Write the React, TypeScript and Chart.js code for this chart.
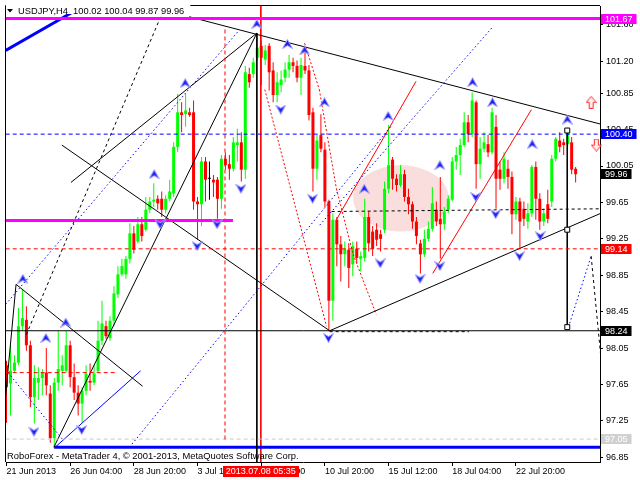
import React, { useEffect, useRef } from "react";
import { Chart, registerables } from "chart.js";

Chart.register(...registerables);

const FONT = "'Liberation Sans', Arial, sans-serif";

// ---- H4 candles (bar 0 = 21 Jun 2013) ----
const opens = [
  97.86, 97.66, 97.80, 97.89, 98.29, 98.36, 98.08, 97.51, 97.67, 97.72,
  97.78, 97.55, 97.06, 97.67, 97.80, 97.80, 98.08, 97.73, 97.56, 97.44,
  97.58, 97.69, 97.67, 97.80, 98.13, 98.29, 98.16, 98.35, 98.64, 98.86,
  98.86, 99.03, 99.31, 99.22, 99.41, 99.35, 99.57, 99.66, 99.69, 99.69,
  99.57, 99.69, 99.75, 100.26, 100.64, 100.62, 100.64, 100.64, 99.66, 99.63,
  100.10, 99.91, 99.90, 99.90, 99.69, 100.13, 100.07, 100.02, 100.28, 100.31,
  100.01, 101.06, 101.06, 101.24, 101.37, 101.22, 101.37, 101.10, 100.83, 100.94,
  101.02, 101.11, 101.19, 101.15, 101.02, 101.15, 101.10, 100.64, 100.02, 100.39,
  100.23, 99.66, 98.57, 99.46, 99.19, 99.08, 99.13, 98.97, 99.14, 99.03,
  99.04, 99.49, 99.33, 99.35, 99.30, 99.35, 99.80, 100.12, 99.91, 99.84,
  99.96, 99.71, 99.63, 99.44, 99.20, 99.08, 99.25, 99.36, 99.57, 99.47,
  99.41, 99.57, 99.68, 100.10, 100.17, 100.28, 100.53, 100.40, 100.75, 100.07,
  100.24, 100.29, 100.20, 100.48, 100.01, 99.91, 100.02, 99.93, 99.52, 99.66,
  99.58, 99.44, 99.53, 100.04, 99.69, 99.44, 99.63, 99.66, 100.13, 100.33,
  100.31, 100.29, 100.31, 100.02,
];
const highs = [
  97.91, 98.08, 97.97, 98.49, 98.70, 98.51, 98.13, 97.86, 97.84, 97.82,
  98.05, 97.64, 97.72, 98.24, 97.97, 98.24, 98.13, 97.88, 97.64, 97.62,
  97.86, 97.88, 97.86, 98.35, 98.57, 98.35, 98.40, 98.73, 98.95, 99.03,
  99.06, 99.42, 99.39, 99.49, 99.49, 99.71, 99.71, 99.86, 99.73, 99.77,
  99.73, 99.90, 100.31, 100.84, 100.75, 100.84, 100.69, 100.77, 99.71, 100.15,
  100.15, 100.10, 99.95, 99.93, 100.17, 100.20, 100.17, 100.37, 100.46, 100.42,
  101.15, 101.13, 101.24, 101.51, 101.43, 101.38, 101.40, 101.19, 101.08, 101.10,
  101.19, 101.27, 101.24, 101.21, 101.24, 101.30, 101.16, 100.69, 100.39, 100.62,
  100.31, 99.68, 99.53, 99.49, 99.28, 99.22, 99.20, 99.22, 99.22, 99.11,
  99.69, 99.55, 99.39, 99.42, 99.35, 99.88, 100.50, 100.15, 99.96, 100.06,
  100.01, 99.80, 99.66, 99.49, 99.24, 99.35, 99.44, 99.82, 99.66, 99.93,
  99.60, 99.73, 100.15, 100.26, 100.35, 100.64, 100.61, 100.86, 100.77, 100.37,
  100.42, 100.39, 100.69, 100.61, 100.10, 100.20, 100.12, 99.99, 99.71, 99.70,
  99.66, 99.64, 100.06, 100.10, 99.75, 99.58, 99.79, 100.17, 100.37, 100.42,
  100.35, 100.47, 100.37, 100.04,
];
const lows = [
  97.23, 97.31, 97.78, 97.86, 98.24, 98.02, 97.40, 97.22, 97.48, 97.53,
  97.53, 97.01, 96.95, 97.58, 97.64, 97.78, 97.62, 97.48, 97.31, 97.23,
  97.53, 97.58, 97.64, 97.78, 98.08, 98.15, 98.13, 98.29, 98.60, 98.84,
  98.81, 98.98, 99.09, 99.20, 99.22, 99.33, 99.53, 99.60, 99.57, 99.49,
  99.53, 99.66, 99.71, 100.20, 100.42, 100.48, 100.59, 99.57, 99.24, 99.39,
  99.66, 99.68, 99.71, 99.47, 99.58, 100.01, 99.90, 99.99, 100.10, 99.88,
  99.91, 100.91, 101.02, 101.21, 100.94, 101.16, 100.88, 100.75, 100.75, 100.86,
  100.97, 101.02, 101.08, 100.97, 100.83, 101.06, 100.55, 99.77, 99.90, 100.20,
  99.60, 98.24, 98.35, 98.95, 98.78, 98.95, 98.71, 98.84, 98.98, 98.89,
  99.00, 99.11, 99.06, 99.17, 99.11, 99.31, 99.75, 99.79, 99.77, 99.82,
  99.66, 99.52, 99.36, 99.19, 98.87, 99.05, 99.22, 99.33, 99.39, 99.03,
  99.35, 99.53, 99.66, 100.01, 99.95, 100.26, 100.31, 100.37, 99.80, 99.91,
  100.20, 100.15, 100.18, 99.58, 99.79, 99.86, 99.80, 99.30, 99.46, 99.14,
  99.39, 99.36, 99.49, 99.46, 99.35, 99.39, 99.42, 99.60, 100.10, 100.20,
  100.17, 100.26, 99.96, 99.87,
];
const closes = [
  97.62, 97.80, 97.89, 98.29, 98.38, 98.08, 97.51, 97.72, 97.72, 97.78,
  97.64, 97.06, 97.67, 97.82, 97.86, 98.08, 97.73, 97.56, 97.44, 97.58,
  97.77, 97.67, 97.77, 98.13, 98.32, 98.18, 98.35, 98.65, 98.86, 98.95,
  99.03, 99.31, 99.13, 99.41, 99.28, 99.57, 99.66, 99.68, 99.64, 99.57,
  99.69, 99.77, 100.26, 100.64, 100.61, 100.66, 100.61, 99.66, 99.63, 100.10,
  99.90, 99.91, 99.87, 99.69, 100.13, 100.06, 100.02, 100.31, 100.31, 100.01,
  101.08, 100.97, 101.19, 101.35, 101.24, 101.32, 101.08, 100.83, 100.97, 101.00,
  101.11, 101.19, 101.15, 101.02, 101.16, 101.10, 100.61, 100.02, 100.33, 100.24,
  99.66, 98.57, 99.46, 99.19, 99.08, 99.14, 98.93, 99.17, 99.04, 99.06,
  99.49, 99.20, 99.14, 99.24, 99.25, 99.80, 100.06, 99.91, 99.84, 99.96,
  99.71, 99.63, 99.44, 99.28, 99.08, 99.25, 99.36, 99.64, 99.44, 99.41,
  99.55, 99.69, 100.10, 100.17, 100.28, 100.53, 100.40, 100.77, 100.07, 100.24,
  100.31, 100.20, 100.64, 99.91, 99.91, 100.13, 99.93, 99.52, 99.66, 99.44,
  99.47, 99.53, 100.04, 99.69, 99.44, 99.53, 99.47, 100.13, 100.35, 100.26,
  100.28, 100.46, 100.01, 99.96,
];

// ---- axes ----
const xTickBars = [0, 16, 32, 48, 64, 80, 96, 112, 128];
const xTickLabels = [
  "21 Jun 2013", "26 Jun 04:00", "28 Jun 20:00", "3 Jul 12:00", "8 Jul 04:00",
  "10 Jul 20:00", "15 Jul 12:00", "18 Jul 04:00", "22 Jul 20:00",
];
const yTickValues = [101.6, 101.2, 100.85, 100.45, 100.05, 99.65, 99.25, 98.85, 98.45, 98.05, 97.65, 97.25, 96.85];

const titleText = "USDJPY,H4  100.02 100.04 99.87 99.96";
const copyrightText = "RoboForex - MetaTrader 4, \u00A9 2001-2013, MetaQuotes Software Corp.";
const cursorBar = 63.9;
const cursorLabel = "2013.07.08 05:35";

// right-hand price labels
const levelPrices = [101.67, 100.4, 99.96, 99.14, 98.24, 97.05];
const levelColors = ["#FF00FF", "#0000FF", "#000000", "#FF0000", "#000000", "#D0D0D0"];

// ---- drawn objects: segments [bar1, price1, bar2, price2] ----
const magentaLines = [
  [-0.2, 101.67, 149.3, 101.67],
  [-0.2, 99.45, 56.9, 99.45],
];
const blueDashedLevels = [[-0.2, 100.4, 149.3, 100.4]];
const redDashedLines = [
  [-0.2, 99.14, 149.3, 99.14],
  [-0.2, 97.78, 27.9, 97.78],
  [54.9, 101.55, 54.9, 97.04],
];
const grayDashedLevels = [[-0.2, 97.05, 149.3, 97.05]];
const blackSolidLines = [
  [-0.2, 98.24, 149.3, 98.24],
  [45.9, 101.69, 149.3, 100.51],
  [81.2, 98.24, 149.3, 99.53],
  [13.9, 100.28, 81.2, 98.24],
  [16.2, 99.87, 62.9, 101.51],
  [62.9, 101.51, 11.9, 96.96],
  [2.4, 98.75, 34.2, 97.63],
  [2.4, 98.75, -0.2, 97.53],
  [62.9, 101.51, 62.9, 96.79],
  [140.9, 100.44, 140.9, 98.28],
];
const blackDashedLines = [
  [146.9, 99.06, 149.3, 97.97],
  [39.9, 101.81, 4.7, 98.17],
  [81.2, 98.23, 116.2, 98.23],
  [81.7, 99.55, 149.3, 99.58],
];
const blueDottedLines = [
  [-0.2, 98.53, 58.4, 101.54],
  [30.9, 96.96, 96.7, 100.49],
  [78.7, 99.4, 122.2, 101.58],
  [0.4, 97.78, 14.2, 97.04],
  [141.2, 98.28, 146.9, 99.06],
];
const blueSolidLines = [[12.2, 96.96, 33.7, 97.8]];
const blueThickLines = [
  [12.0, 96.96, 149.3, 96.96],
  [-0.2, 101.32, 19.4, 101.81],
];
const redDottedLines = [
  [64.9, 100.89, 80.4, 98.29],
  [74.9, 101.4, 78.6, 100.89],
  [78.6, 100.89, 82.9, 99.8],
  [82.9, 99.8, 87.1, 99.08],
  [87.1, 99.08, 92.9, 98.42],
];
const redSolidLines = [
  [82.9, 99.46, 102.9, 100.98],
  [107.1, 98.87, 131.9, 100.67],
  [cursorBar, 101.82, cursorBar, 96.79],
];

// ---- markers ----
const upFractals = [
  [4.1, 98.81], [9.9, 98.16], [14.9, 98.33], [37.1, 99.96], [44.9, 100.96],
  [62.9, 101.61], [70.6, 101.39], [74.9, 101.32], [79.9, 100.75], [89.9, 99.8],
  [95.9, 100.6], [108.9, 100.06], [117.1, 100.97], [122.1, 100.75], [132.1, 100.29],
  [140.9, 100.56],
];
const downFractals = [
  [6.9, 97.13], [18.9, 97.15], [38.6, 99.41], [47.9, 99.17], [52.9, 99.41],
  [58.9, 99.8], [68.9, 100.67], [76.9, 99.69], [80.9, 98.16], [93.9, 98.98],
  [103.9, 98.81], [108.9, 98.95], [117.9, 99.71], [122.9, 99.52], [128.9, 99.06],
  [134.1, 99.28],
];
const signalUp = [[146.9, 100.75]];
const signalDown = [[148.2, 100.28]];
const anchorBoxes = [[140.9, 100.44], [140.9, 99.35], [140.9, 98.28]];

// pink zone (ellipse bounds)
const zoneBars = [87.1, 111.1];
const zonePrices = [99.33, 100.06];

const X_MIN = -0.125;
const X_MAX = 149.125;
const Y_MIN = 96.798;
const Y_MAX = 101.808;

function makeFractalArrow(up: boolean) {
  const c = document.createElement("canvas");
  c.width = 11;
  c.height = 10;
  const g = c.getContext("2d")!;
  if (!up) {
    g.translate(0, 10);
    g.scale(1, -1);
  }
  g.beginPath();
  g.moveTo(5.5, 0.5);
  g.lineTo(10.5, 9.5);
  g.lineTo(5.5, 6.5);
  g.lineTo(0.5, 9.5);
  g.closePath();
  g.fillStyle = "#1F1FEF";
  g.fill();
  g.strokeStyle = "#A6A6FF";
  g.lineWidth = 1;
  g.stroke();
  return c;
}

function makeHollowArrow(up: boolean) {
  const c = document.createElement("canvas");
  c.width = 11;
  c.height = 13;
  const g = c.getContext("2d")!;
  if (!up) {
    g.translate(0, 13);
    g.scale(1, -1);
  }
  g.beginPath();
  g.moveTo(5.5, 0.5);
  g.lineTo(10.5, 6.5);
  g.lineTo(7.5, 6.5);
  g.lineTo(7.5, 12.5);
  g.lineTo(3.5, 12.5);
  g.lineTo(3.5, 6.5);
  g.lineTo(0.5, 6.5);
  g.closePath();
  g.fillStyle = "#FFECEC";
  g.fill();
  g.strokeStyle = "#FF3030";
  g.lineWidth = 1;
  g.stroke();
  return c;
}

function segDatasets(segs: number[][], color: string, width: number, dash: number[]) {
  return segs.map((s) => ({
    type: "line" as const,
    data: [
      { x: s[0], y: s[1] },
      { x: s[2], y: s[3] },
    ],
    borderColor: color,
    borderWidth: width,
    borderDash: dash,
    borderCapStyle: "butt",
    pointRadius: 0,
    fill: false,
    tension: 0,
    order: 5,
  }));
}

const overlayPlugin = {
  id: "mt4overlay",
  beforeDatasetsDraw(chart: any) {
    const { ctx, scales } = chart;
    const x = scales.x;
    const y = scales.y;
    const x1 = x.getPixelForValue(zoneBars[0]);
    const x2 = x.getPixelForValue(zoneBars[1]);
    const y1 = y.getPixelForValue(zonePrices[1]);
    const y2 = y.getPixelForValue(zonePrices[0]);
    ctx.save();
    ctx.beginPath();
    ctx.ellipse((x1 + x2) / 2, (y1 + y2) / 2, (x2 - x1) / 2, (y2 - y1) / 2, 0, 0, Math.PI * 2);
    ctx.fillStyle = "#FADDDD";
    ctx.fill();
    ctx.restore();
  },
  afterDraw(chart: any) {
    const { ctx, chartArea: a, scales } = chart;
    const x = scales.x;
    const y = scales.y;
    ctx.save();
    // frame (top + left)
    ctx.strokeStyle = "#000";
    ctx.lineWidth = 1;
    ctx.beginPath();
    ctx.moveTo(a.left - 0.5, a.bottom);
    ctx.lineTo(a.left - 0.5, a.top - 0.5);
    ctx.lineTo(a.right, a.top - 0.5);
    ctx.stroke();

    ctx.textBaseline = "alphabetic";
    ctx.textAlign = "left";
    // title with its own white backdrop
    ctx.font = `9.3px ${FONT}`;
    const titleW = ctx.measureText(titleText).width;
    ctx.fillStyle = "#FFFFFF";
    ctx.fillRect(a.left, 4, titleW + 18, 10);
    ctx.fillStyle = "#000";
    ctx.beginPath();
    ctx.moveTo(7, 9);
    ctx.lineTo(13, 9);
    ctx.lineTo(10, 12.5);
    ctx.closePath();
    ctx.fill();
    ctx.fillText(titleText, 18, 14);
    // copyright
    ctx.font = `9.4px ${FONT}`;
    ctx.fillText(copyrightText, 7, 459);

    // right price labels
    ctx.font = `9px ${FONT}`;
    ctx.textBaseline = "middle";
    levelPrices.forEach((p, i) => {
      const py = Math.round(y.getPixelForValue(p));
      const t = p.toFixed(2);
      const w = ctx.measureText(t).width;
      ctx.fillStyle = levelColors[i];
      ctx.fillRect(a.right + 1, py - 5, w + 8, 10);
      ctx.fillStyle = "#FFFFFF";
      ctx.fillText(t, a.right + 5, py + 0.5);
    });

    // time cursor label
    const cx = x.getPixelForValue(cursorBar);
    const tw = ctx.measureText(cursorLabel).width;
    ctx.fillStyle = "#FF0000";
    ctx.fillRect(Math.round(cx - tw / 2 - 3), 466, Math.round(tw + 6), 11);
    ctx.fillStyle = "#FFFFFF";
    ctx.textAlign = "center";
    ctx.fillText(cursorLabel, cx, 471.5);
    ctx.restore();
  },
};

export default function App() {
  const ref = useRef<HTMLCanvasElement | null>(null);

  useEffect(() => {
    const canvas = ref.current;
    if (!canvas) return;

    const barIdx = opens.map((_, i) => i);
    const colors = barIdx.map((i) =>
      closes[i] > opens[i] ? "#00FF00" : closes[i] < opens[i] ? "#FF0000" : "#000000"
    );
    const upImg = makeFractalArrow(true);
    const downImg = makeFractalArrow(false);
    const sigUpImg = makeHollowArrow(true);
    const sigDownImg = makeHollowArrow(false);

    const pointSet = (pts: number[][], style: any, order: number, extra: any = {}) => ({
      type: "line" as const,
      data: pts.map((p) => ({ x: p[0], y: p[1] })),
      showLine: false,
      pointStyle: style,
      pointRadius: 5,
      order,
      clip: false,
      ...extra,
    });

    const datasets: any[] = [
      {
        type: "bar",
        data: barIdx.map((i) => ({ x: i, y: [lows[i], highs[i]] })),
        backgroundColor: colors,
        borderWidth: 0,
        grouped: false,
        barPercentage: 1,
        categoryPercentage: 1,
        maxBarThickness: 1,
        inflateAmount: 0,
        order: 20,
      },
      {
        type: "bar",
        data: barIdx.map((i) => ({ x: i, y: [opens[i], closes[i]] })),
        backgroundColor: colors,
        borderWidth: 0,
        grouped: false,
        barPercentage: 1,
        categoryPercentage: 1,
        maxBarThickness: 3,
        minBarLength: 1,
        inflateAmount: 0,
        order: 19,
      },
      ...segDatasets(magentaLines, "#FF00FF", 3, []),
      ...segDatasets(blueDashedLevels, "#0000FF", 1, [4, 3]),
      ...segDatasets(redDashedLines, "#FF0000", 1, [4, 3]),
      ...segDatasets(grayDashedLevels, "#C8C8C8", 1, [4, 3]),
      ...segDatasets(blackSolidLines, "#000000", 1, []),
      ...segDatasets(blackDashedLines, "#000000", 1, [3, 3]),
      ...segDatasets(blueDottedLines, "#0000FF", 1, [1.5, 2.5]),
      ...segDatasets(blueSolidLines, "#0000FF", 1, []),
      ...segDatasets(blueThickLines, "#0000FF", 3, []),
      ...segDatasets(redDottedLines, "#FF0000", 1, [2, 2]),
      ...segDatasets(redSolidLines, "#FF0000", 1, []),
      pointSet(upFractals, upImg, 2),
      pointSet(downFractals, downImg, 2),
      pointSet(signalUp, sigUpImg, 2),
      pointSet(signalDown, sigDownImg, 2),
      pointSet(anchorBoxes, "rect", 1, {
        pointRadius: 3.5,
        pointBackgroundColor: "#FFFFFF",
        pointBorderColor: "#000000",
        pointBorderWidth: 1,
      }),
    ];

    const chart = new Chart(canvas, {
      type: "bar",
      data: { datasets },
      options: {
        responsive: false,
        animation: false,
        devicePixelRatio: 1,
        events: [],
        layout: { padding: { left: 3, top: 3, right: 0, bottom: 0 } },
        plugins: {
          legend: { display: false },
          tooltip: { enabled: false },
          title: { display: false },
        },
        scales: {
          x: {
            type: "linear",
            position: "bottom",
            min: X_MIN,
            max: X_MAX,
            offset: false,
            afterBuildTicks: (s: any) => {
              s.ticks = xTickBars.map((v) => ({ value: v }));
            },
            afterFit: (s: any) => {
              s.height = 18;
              s.paddingLeft = 0;
              s.paddingRight = 0;
            },
            ticks: {
              autoSkip: false,
              maxRotation: 0,
              minRotation: 0,
              align: "start",
              padding: 0,
              color: "#000000",
              font: { family: FONT, size: 9 },
              callback: (_v: any, i: number) => xTickLabels[i],
            },
            grid: {
              display: true,
              drawOnChartArea: false,
              drawTicks: true,
              tickLength: 4,
              color: "#000000",
              offset: false,
            },
            border: { display: true, color: "#000000" },
          },
          y: {
            type: "linear",
            position: "right",
            min: Y_MIN,
            max: Y_MAX,
            afterBuildTicks: (s: any) => {
              s.ticks = yTickValues.map((v) => ({ value: v }));
            },
            afterFit: (s: any) => {
              s.width = 40;
              s.paddingTop = 0;
              s.paddingBottom = 0;
            },
            ticks: {
              autoSkip: false,
              padding: 3,
              crossAlign: "near",
              color: "#000000",
              font: { family: FONT, size: 9 },
              callback: (v: any) => Number(v).toFixed(2),
            },
            grid: {
              display: true,
              drawOnChartArea: false,
              drawTicks: true,
              tickLength: 3,
              color: "#000000",
            },
            border: { display: true, color: "#000000" },
          },
        },
      } as any,
      plugins: [overlayPlugin],
    } as any);

    return () => chart.destroy();
  }, []);

  return (
    <div style={{ position: "fixed", left: 0, top: 0, width: 640, height: 480, background: "#FFFFFF" }}>
      <canvas ref={ref} width={640} height={480} style={{ display: "block", width: 640, height: 480 }} />
    </div>
  );
}
